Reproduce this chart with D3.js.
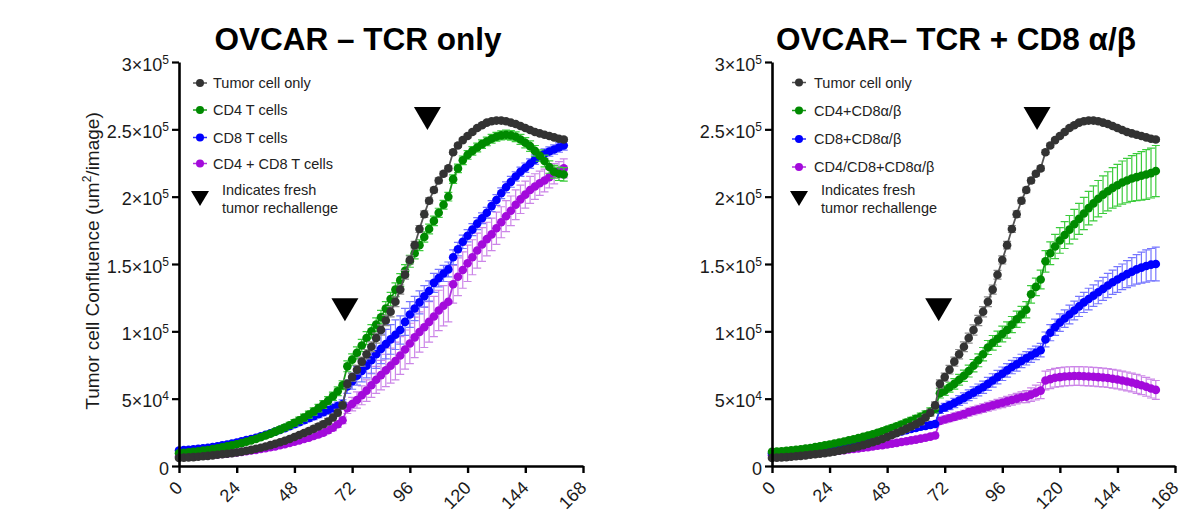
<!DOCTYPE html>
<html>
<head>
<meta charset="utf-8">
<script src="https://cdn.jsdelivr.net/npm/d3@7"></script>
<style>
  body { margin: 0; background: #fff; }
  text { font-family: "Liberation Sans", Arial, Helvetica, sans-serif; }
</style>
</head>
<body>
<script>
// Tempos (h) das leituras: uma leitura a cada 2 h, de 0 a 160 h
var times = d3.range(0, 161, 2);

// Valores em milhares (x10^3 um2/imagem)
// Tumor cell only (mesmo controle nos dois paineis)
var tumorOnly = [6, 6.2, 6.4, 6.6, 6.9, 7.2, 7.5, 7.9, 8.3, 8.7,
  9.1, 9.5, 10, 10.6, 11.3, 12, 12.8, 13.6, 14.5, 15.5,
  16.5, 17.6, 18.8, 20.1, 21.5, 23, 24.5, 26, 27.6, 29.3,
  31, 33, 36, 39.5, 45, 61, 66, 71.5, 77.5, 83,
  88.6, 95, 101, 108, 114.6, 122, 131, 142, 153, 164,
  176, 187, 197, 205, 212, 217, 221, 233, 238, 242,
  245, 248, 251, 253, 255, 256, 256.5, 256.5, 256, 255,
  254, 252.5, 251, 249.5, 248, 247, 246, 245, 244, 243,
  242.5];
var tumorOnlyErr = [0.4, 0.4, 0.4, 0.5, 0.5, 0.5, 0.5, 0.6, 0.6, 0.6,
  0.7, 0.7, 0.8, 0.8, 0.9, 0.9, 1, 1, 1.1, 1.1,
  1.2, 1.3, 1.4, 1.5, 1.6, 1.7, 1.8, 1.9, 2, 2.1,
  2.2, 2.3, 2.4, 2.5, 2.6, 3, 3, 3.2, 3.4, 3.5,
  3.6, 3.7, 3.8, 3.8, 3.8, 3.6, 3.4, 3.2, 3, 2.8,
  2.6, 2.4, 2.2, 2, 1.9, 1.8, 1.7, 1.6, 1.5, 1.5,
  1.4, 1.4, 1.4, 1.4, 1.4, 1.4, 1.4, 1.4, 1.4, 1.4,
  1.4, 1.4, 1.4, 1.4, 1.4, 1.4, 1.4, 1.4, 1.4, 1.4,
  1.4];

// Painel esquerdo: TCR only
var cd4Left = [9.5, 9.8, 10.1, 10.5, 10.9, 11.4, 11.9, 12.5, 13.2, 13.9,
  14.6, 15.3, 16.1, 17, 18, 19, 20.1, 21.3, 22.6, 24,
  25.5, 27, 28.6, 30.3, 32.1, 34, 36, 38.2, 40.5, 43,
  45.6, 48.5, 51.8, 55.5, 60, 74, 79, 84, 89.5, 95,
  100, 105, 110.5, 117, 124, 131, 138, 145, 152, 158,
  164, 170, 176, 182, 188, 194, 200, 213, 221, 227,
  231, 234, 236.5, 239, 241, 243, 244.5, 245.5, 246, 245.5,
  244.5, 242.5, 240, 237.5, 234, 230.5, 226.5, 222, 218.5, 217,
  216.5];
var cd4LeftErr = [0.8, 0.8, 0.8, 0.9, 0.9, 0.9, 1, 1, 1, 1.1,
  1.1, 1.2, 1.2, 1.3, 1.3, 1.4, 1.5, 1.6, 1.7, 1.8,
  1.9, 2, 2.1, 2.2, 2.3, 2.4, 2.5, 2.6, 2.7, 2.8,
  2.9, 3, 3.1, 3.2, 3.3, 4, 4.2, 4.4, 4.6, 4.8,
  5, 5, 5, 5, 5, 5, 4.8, 4.6, 4.4, 4.2,
  4, 3.8, 3.6, 3.5, 3.4, 3.3, 3.2, 3.2, 3.2, 3.2,
  3.2, 3.2, 3.2, 3.2, 3.2, 3.2, 3.2, 3.3, 3.4, 3.5,
  3.6, 3.7, 3.8, 3.9, 4, 4.2, 4.4, 4.6, 4.8, 5,
  5];
var cd8Left = [11.5, 11.8, 12.1, 12.4, 12.8, 13.2, 13.6, 14.1, 14.7, 15.3,
  16, 16.7, 17.5, 18.3, 19.2, 20.1, 21, 22, 23.1, 24.3,
  25.5, 26.8, 28.1, 29.5, 31, 32.5, 34, 35.5, 37, 38.5,
  40, 41.5, 43, 44.5, 46, 59, 63, 67, 70.5, 74.5,
  78.5, 83, 87, 90.5, 94, 97.5, 101, 107, 112.5, 117,
  121.5, 126, 130, 136, 139.5, 143, 146, 155, 161, 166.5,
  171, 175.5, 180, 184, 188, 193, 197.5, 202.5, 207, 211,
  215, 218.5, 221.5, 224.5, 227.5, 230, 232, 233.5, 235, 236.5,
  238];
var cd8LeftErr = [1, 1, 1, 1, 1, 1, 1.1, 1.1, 1.1, 1.2,
  1.2, 1.2, 1.3, 1.3, 1.4, 1.4, 1.5, 1.5, 1.6, 1.6,
  1.7, 1.8, 1.9, 2, 2.1, 2.2, 2.3, 2.4, 2.5, 2.6,
  2.7, 2.8, 2.9, 3, 3.2, 5, 6, 7, 8, 9,
  10, 10.5, 11, 11, 11, 11, 10.5, 10, 9.5, 9,
  8.5, 8, 7.5, 7, 6.5, 6, 5.5, 5.5, 5, 5,
  4.5, 4.5, 4.5, 4, 4, 4, 4, 4, 4, 4,
  3.5, 3.5, 3.5, 3.5, 3.5, 3.5, 3.5, 3.5, 3.5, 3.5,
  3.5];
var cd4cd8Left = [7, 7.1, 7.2, 7.4, 7.6, 7.8, 8, 8.3, 8.6, 8.9,
  9.2, 9.6, 10, 10.5, 11, 11.5, 12, 12.6, 13.2, 13.9,
  14.6, 15.4, 16.2, 17.1, 18, 19, 20, 21.1, 22.3, 23.5,
  24.8, 26.5, 28.5, 31, 34, 43, 46, 49, 52.5, 56,
  60, 64, 67.5, 71, 74.5, 78, 82, 86.5, 91, 95.5,
  99.5, 103, 107, 111, 115.5, 119, 122, 135, 140.5, 145.5,
  150.5, 155, 160, 164.5, 168.5, 172, 176.5, 181, 185.5, 189.5,
  194, 198, 201.5, 205, 207.5, 210, 212, 214.5, 217, 219,
  221];
var cd4cd8LeftErr = [0.5, 0.5, 0.5, 0.5, 0.6, 0.6, 0.6, 0.6, 0.7, 0.7,
  0.7, 0.8, 0.8, 0.8, 0.9, 0.9, 1, 1, 1.1, 1.1,
  1.2, 1.2, 1.3, 1.3, 1.4, 1.5, 1.6, 1.7, 1.8, 1.9,
  2, 2.1, 2.2, 2.3, 2.5, 4, 5, 6, 7, 8,
  9, 10, 11, 12, 13, 14, 14, 14.5, 15, 15,
  15, 15, 15, 15, 15, 15, 15, 14, 14, 13.5,
  13.5, 13, 13, 12.5, 12.5, 12, 12, 11.5, 11.5, 11,
  11, 10.5, 10, 10, 9.5, 9, 8.5, 8, 7.5, 7,
  7];

// Painel direito: TCR + CD8 a/b
var cd4Right = [10.5, 10.7, 11, 11.3, 11.6, 12, 12.4, 12.9, 13.4, 14,
  14.6, 15.3, 16, 16.7, 17.4, 18.2, 19, 19.8, 20.7, 21.6,
  22.6, 23.6, 24.7, 25.8, 27, 28.2, 29.5, 30.8, 32.2, 33.6,
  35, 36.5, 38.2, 40.2, 42.5, 54, 56, 58.5, 61, 64,
  67, 70.5, 74.5, 78.5, 83, 88, 91.5, 94.5, 98, 101,
  105, 109, 112.5, 116, 127.5, 133, 138.5, 152, 158, 163,
  167.5, 171.5, 175.5, 179.5, 183.5, 187.5, 191.5, 195, 198.5, 201.5,
  204, 206.5, 208.5, 210.5, 212, 213.5, 214.5, 215.5, 216.5, 217.5,
  219];
var cd4RightErr = [0.8, 0.8, 0.8, 0.8, 0.9, 0.9, 0.9, 1, 1, 1,
  1.1, 1.1, 1.2, 1.2, 1.3, 1.3, 1.4, 1.4, 1.5, 1.5,
  1.6, 1.7, 1.8, 1.9, 2, 2.1, 2.2, 2.3, 2.4, 2.5,
  2.6, 2.7, 2.8, 2.9, 3, 3.5, 3.5, 3.7, 3.9, 4,
  4.2, 4.4, 4.6, 4.8, 5, 5.2, 5.4, 5.6, 5.8, 6,
  6, 6, 6, 6, 6.5, 6.5, 7, 8, 8.5, 9,
  9.5, 10, 10.5, 11, 11.5, 12, 12.5, 13, 13.5, 14,
  14.5, 15, 15.5, 16, 16.5, 17, 17.5, 18, 18.5, 18.5,
  19];
var cd8Right = [9.5, 9.6, 9.8, 10, 10.2, 10.5, 10.8, 11.2, 11.6, 12,
  12.5, 13, 13.5, 14, 14.6, 15.2, 15.8, 16.5, 17.2, 18,
  18.8, 19.7, 20.6, 21.6, 22.6, 23.6, 24.6, 25.6, 26.6, 27.5,
  28.3, 29.1, 29.8, 30.5, 31.2, 42, 43.5, 45, 46.8, 48.6,
  50.5, 52.5, 54.5, 56.5, 58.5, 61, 63.5, 66, 68.5, 71,
  73.5, 75.5, 78, 80, 82, 84, 86, 94, 99, 103,
  106.5, 109.5, 112.5, 115.5, 118.5, 121.5, 124, 126.5, 129, 131.5,
  134, 136.5, 138.5, 140.5, 142.5, 144.3, 146, 147.3, 148.5, 149.5,
  150];
var cd8RightErr = [0.8, 0.8, 0.8, 0.8, 0.8, 0.9, 0.9, 0.9, 0.9, 1,
  1, 1, 1, 1.1, 1.1, 1.1, 1.2, 1.2, 1.2, 1.3,
  1.3, 1.4, 1.4, 1.5, 1.5, 1.6, 1.6, 1.7, 1.7, 1.8,
  1.8, 1.9, 1.9, 2, 2, 3, 3, 3.2, 3.4, 3.6,
  3.8, 4, 4.2, 4.4, 4.6, 4.8, 5, 5, 5, 5,
  5, 5, 5, 5, 5, 5, 5, 5.5, 6, 6,
  6.5, 6.5, 7, 7, 7.5, 7.5, 8, 8, 8.5, 8.5,
  9, 9, 9.5, 9.5, 10, 10.5, 11, 11.5, 12, 12,
  12.5];
var cd4cd8Right = [8, 8.1, 8.2, 8.4, 8.6, 8.8, 9, 9.3, 9.6, 9.9,
  10.2, 10.5, 10.8, 11.1, 11.4, 11.8, 12.2, 12.6, 13, 13.5,
  14, 14.5, 15, 15.5, 16, 16.6, 17.2, 17.8, 18.4, 19,
  19.6, 20.3, 21, 21.8, 22.6, 33.5, 34.5, 35.5, 36.5, 37.5,
  38.5, 40, 41, 42, 43, 44, 45, 46, 47, 48,
  49, 50, 51, 51.5, 53, 54.5, 56, 63.5, 64.5, 65.5,
  66, 66.5, 66.7, 66.8, 66.8, 66.7, 66.5, 66.3, 66, 65.7,
  65.3, 64.8, 64.2, 63.5, 62.8, 62, 61, 60, 58.8, 57.5,
  56.5];
var cd4cd8RightErr = [0.6, 0.6, 0.6, 0.6, 0.6, 0.7, 0.7, 0.7, 0.7, 0.7,
  0.8, 0.8, 0.8, 0.8, 0.9, 0.9, 0.9, 1, 1, 1,
  1, 1.1, 1.1, 1.2, 1.2, 1.3, 1.3, 1.4, 1.4, 1.5,
  1.5, 1.6, 1.6, 1.7, 1.8, 2.5, 2.5, 2.6, 2.7, 2.8,
  2.9, 3, 3, 3.1, 3.2, 3.3, 3.4, 3.5, 3.6, 3.7,
  3.8, 3.9, 4, 4.5, 5, 5.5, 6, 7, 7, 7,
  7, 7, 7, 7, 7, 7, 7, 7, 7, 7,
  7, 7, 7, 7, 7, 7, 7, 7, 7, 7,
  7];

// Eixos
var xTicks = [0, 24, 48, 72, 96, 120, 144, 168];
var yTicks = [0, 50, 100, 150, 200, 250, 300];
var yTickBase = ["0", "5\u00d710", "1\u00d710", "1.5\u00d710", "2\u00d710", "2.5\u00d710", "3\u00d710"];
var yTickExp = ["", "4", "5", "5", "5", "5", "5"];

// Legendas e titulos
var titles = ["OVCAR \u2013 TCR only", "OVCAR\u2013 TCR + CD8 \u03b1/\u03b2"];
var legendLeft = ["Tumor cell only", "CD4 T cells", "CD8 T cells", "CD4 + CD8 T cells"];
var legendRight = ["Tumor cell only", "CD4+CD8\u03b1/\u03b2", "CD8+CD8\u03b1/\u03b2", "CD4/CD8+CD8\u03b1/\u03b2"];

// Setas de reexposicao ao tumor (tempo, valor do centro)
var arrowsLeft = [{t: 69, v: 116}, {t: 103.3, v: 258}];
var arrowsRight = [{t: 69.5, v: 116}, {t: 110.5, v: 258}];

// Cores: ponto / barra de erro
var colors = {
  gray:   {dot: "#333333", err: "#8a8a8a", line: "#555555"},
  green:  {dot: "#008a00", err: "#3ccc3c", line: "#1a9a1a"},
  blue:   {dot: "#0000ff", err: "#7676ff", line: "#2a2aff"},
  purple: {dot: "#a30adb", err: "#cc85e8", line: "#b030e0"}
};

var W = 1182, H = 518;
var svg = d3.select("body").append("svg")
  .attr("width", W)
  .attr("height", H);

function drawPanel(p) {
  var x = d3.scaleLinear().domain([0, 168]).range([p.x0, p.x1]);
  var y = d3.scaleLinear().domain([0, 300]).range([466, 62]);

  var g = svg.append("g");

  // Titulo
  g.append("text")
    .attr("x", p.titleX)
    .attr("y", 50)
    .attr("text-anchor", "middle")
    .attr("font-size", "31.5px")
    .attr("font-weight", "bold")
    .attr("fill", "#000")
    .text(p.title);

  // Series (de baixo para cima)
  p.series.forEach(function(s) {
    var data = times.map(function(t, i) { return {t: t, v: s.values[i], e: s.err[i]}; });
    var sg = g.append("g");

    // barras de erro
    var eb = sg.append("g")
      .attr("stroke", s.col.err)
      .attr("stroke-width", 1.2)
      .attr("fill", "none");
    eb.selectAll("path")
      .data(data)
      .enter()
      .append("path")
      .attr("d", function(d) {
        var cx = x(d.t), yt = y(d.v + d.e), yb = y(d.v - d.e);
        return "M" + cx + "," + yt + "V" + yb +
          "M" + (cx - 4) + "," + yt + "H" + (cx + 4) +
          "M" + (cx - 4) + "," + yb + "H" + (cx + 4);
      });

    // linha
    var line = d3.line()
      .x(function(d) { return x(d.t); })
      .y(function(d) { return y(d.v); });
    sg.append("path")
      .datum(data)
      .attr("d", line)
      .attr("fill", "none")
      .attr("stroke", s.col.line)
      .attr("stroke-width", 1.8);

    // pontos
    sg.selectAll("circle")
      .data(data)
      .enter()
      .append("circle")
      .attr("cx", function(d) { return x(d.t); })
      .attr("cy", function(d) { return y(d.v); })
      .attr("r", 4.3)
      .attr("fill", s.col.dot);
  });

  // Setas
  g.selectAll(".arrow")
    .data(p.arrows)
    .enter()
    .append("path")
    .attr("class", "arrow")
    .attr("d", function(d) {
      var cx = x(d.t), cy = y(d.v);
      return "M" + (cx - 13.5) + "," + (cy - 11.5) + "L" + (cx + 13.5) + "," + (cy - 11.5) +
        "L" + cx + "," + (cy + 11.5) + "Z";
    })
    .attr("fill", "#000");

  // Eixo x
  var xAxis = g.append("g")
    .attr("transform", "translate(0,466)")
    .call(d3.axisBottom(x).tickValues(xTicks).tickSize(7).tickSizeOuter(0));
  xAxis.select(".domain").attr("stroke-width", 2.6).attr("stroke", "#000");
  xAxis.selectAll(".tick line").attr("stroke-width", 2.4).attr("stroke", "#000");
  xAxis.selectAll(".tick text")
    .attr("x", 4)
    .attr("y", 23)
    .attr("dy", null)
    .attr("text-anchor", "end")
    .attr("transform", "rotate(-45,4,23)")
    .attr("font-size", "18px")
    .attr("fill", "#1a1a1a")
    .attr("font-family", "Liberation Sans, Arial, sans-serif");

  // Eixo y
  var yAxis = g.append("g")
    .attr("transform", "translate(" + p.x0 + ",0)")
    .call(d3.axisLeft(y).tickValues(yTicks).tickSize(7).tickSizeOuter(0).tickPadding(3));
  yAxis.select(".domain").attr("stroke-width", 2.6).attr("stroke", "#000");
  yAxis.selectAll(".tick line").attr("stroke-width", 2.2).attr("stroke", "#000");
  yAxis.selectAll(".tick text")
    .attr("font-size", "18px")
    .attr("fill", "#1a1a1a")
    .attr("dy", "0.45em")
    .attr("font-family", "Liberation Sans, Arial, sans-serif")
    .each(function(d, i) {
      var t = d3.select(this);
      t.text(null);
      t.append("tspan").text(yTickBase[i]);
      if (yTickExp[i]) {
        t.append("tspan")
          .attr("font-size", "12px")
          .attr("dy", "-7")
          .text(yTickExp[i]);
      }
    });

  // Legenda
  var lg = g.append("g");
  p.legend.forEach(function(label, i) {
    var c = p.legendCols[i];
    var ly = p.legendY[i];
    lg.append("line")
      .attr("x1", p.legX - 7).attr("x2", p.legX + 7)
      .attr("y1", ly).attr("y2", ly)
      .attr("stroke", c.line).attr("stroke-width", 1.5);
    lg.append("circle")
      .attr("cx", p.legX).attr("cy", ly).attr("r", 4)
      .attr("fill", c.dot);
    lg.append("text")
      .attr("x", p.legTextX)
      .attr("y", ly)
      .attr("dy", "0.36em")
      .attr("font-size", "14.5px")
      .attr("fill", "#222")
      .text(label);
  });
  lg.append("path")
    .attr("d", "M" + (p.legX - 9) + ",191L" + (p.legX + 9) + ",191L" + p.legX + ",206Z")
    .attr("fill", "#000");
  lg.append("text")
    .attr("x", p.legNoteX).attr("y", 190).attr("dy", "0.36em")
    .attr("font-size", "14.5px").attr("fill", "#222")
    .text("Indicates fresh");
  lg.append("text")
    .attr("x", p.legNoteX).attr("y", 208).attr("dy", "0.36em")
    .attr("font-size", "14.5px").attr("fill", "#222")
    .text("tumor rechallenge");
}

var legendCols = [colors.gray, colors.green, colors.blue, colors.purple];

drawPanel({
  x0: 179, x1: 583, titleX: 358, title: titles[0],
  series: [
    {values: cd4cd8Left, err: cd4cd8LeftErr, col: colors.purple},
    {values: cd8Left, err: cd8LeftErr, col: colors.blue},
    {values: cd4Left, err: cd4LeftErr, col: colors.green},
    {values: tumorOnly, err: tumorOnlyErr, col: colors.gray}
  ],
  arrows: arrowsLeft,
  legend: legendLeft, legendCols: legendCols,
  legendY: [83, 110, 137.5, 163.5],
  legX: 200, legTextX: 213, legNoteX: 222
});

drawPanel({
  x0: 772, x1: 1175, titleX: 956, title: titles[1],
  series: [
    {values: cd4cd8Right, err: cd4cd8RightErr, col: colors.purple},
    {values: cd8Right, err: cd8RightErr, col: colors.blue},
    {values: cd4Right, err: cd4RightErr, col: colors.green},
    {values: tumorOnly, err: tumorOnlyErr, col: colors.gray}
  ],
  arrows: arrowsRight,
  legend: legendRight, legendCols: legendCols,
  legendY: [82.5, 110.5, 139, 167],
  legX: 799, legTextX: 814, legNoteX: 821
});

// Rotulo do eixo y (apenas no painel esquerdo)
var yLab = svg.append("text")
  .attr("transform", "translate(99,261) rotate(-90)")
  .attr("text-anchor", "middle")
  .attr("font-size", "19px")
  .attr("fill", "#1a1a1a");
yLab.append("tspan").text("Tumor cell Confluence (um");
yLab.append("tspan").attr("font-size", "12px").attr("dy", "-8").text("2");
yLab.append("tspan").attr("dy", "8").text("/image)");
</script>
</body>
</html>
